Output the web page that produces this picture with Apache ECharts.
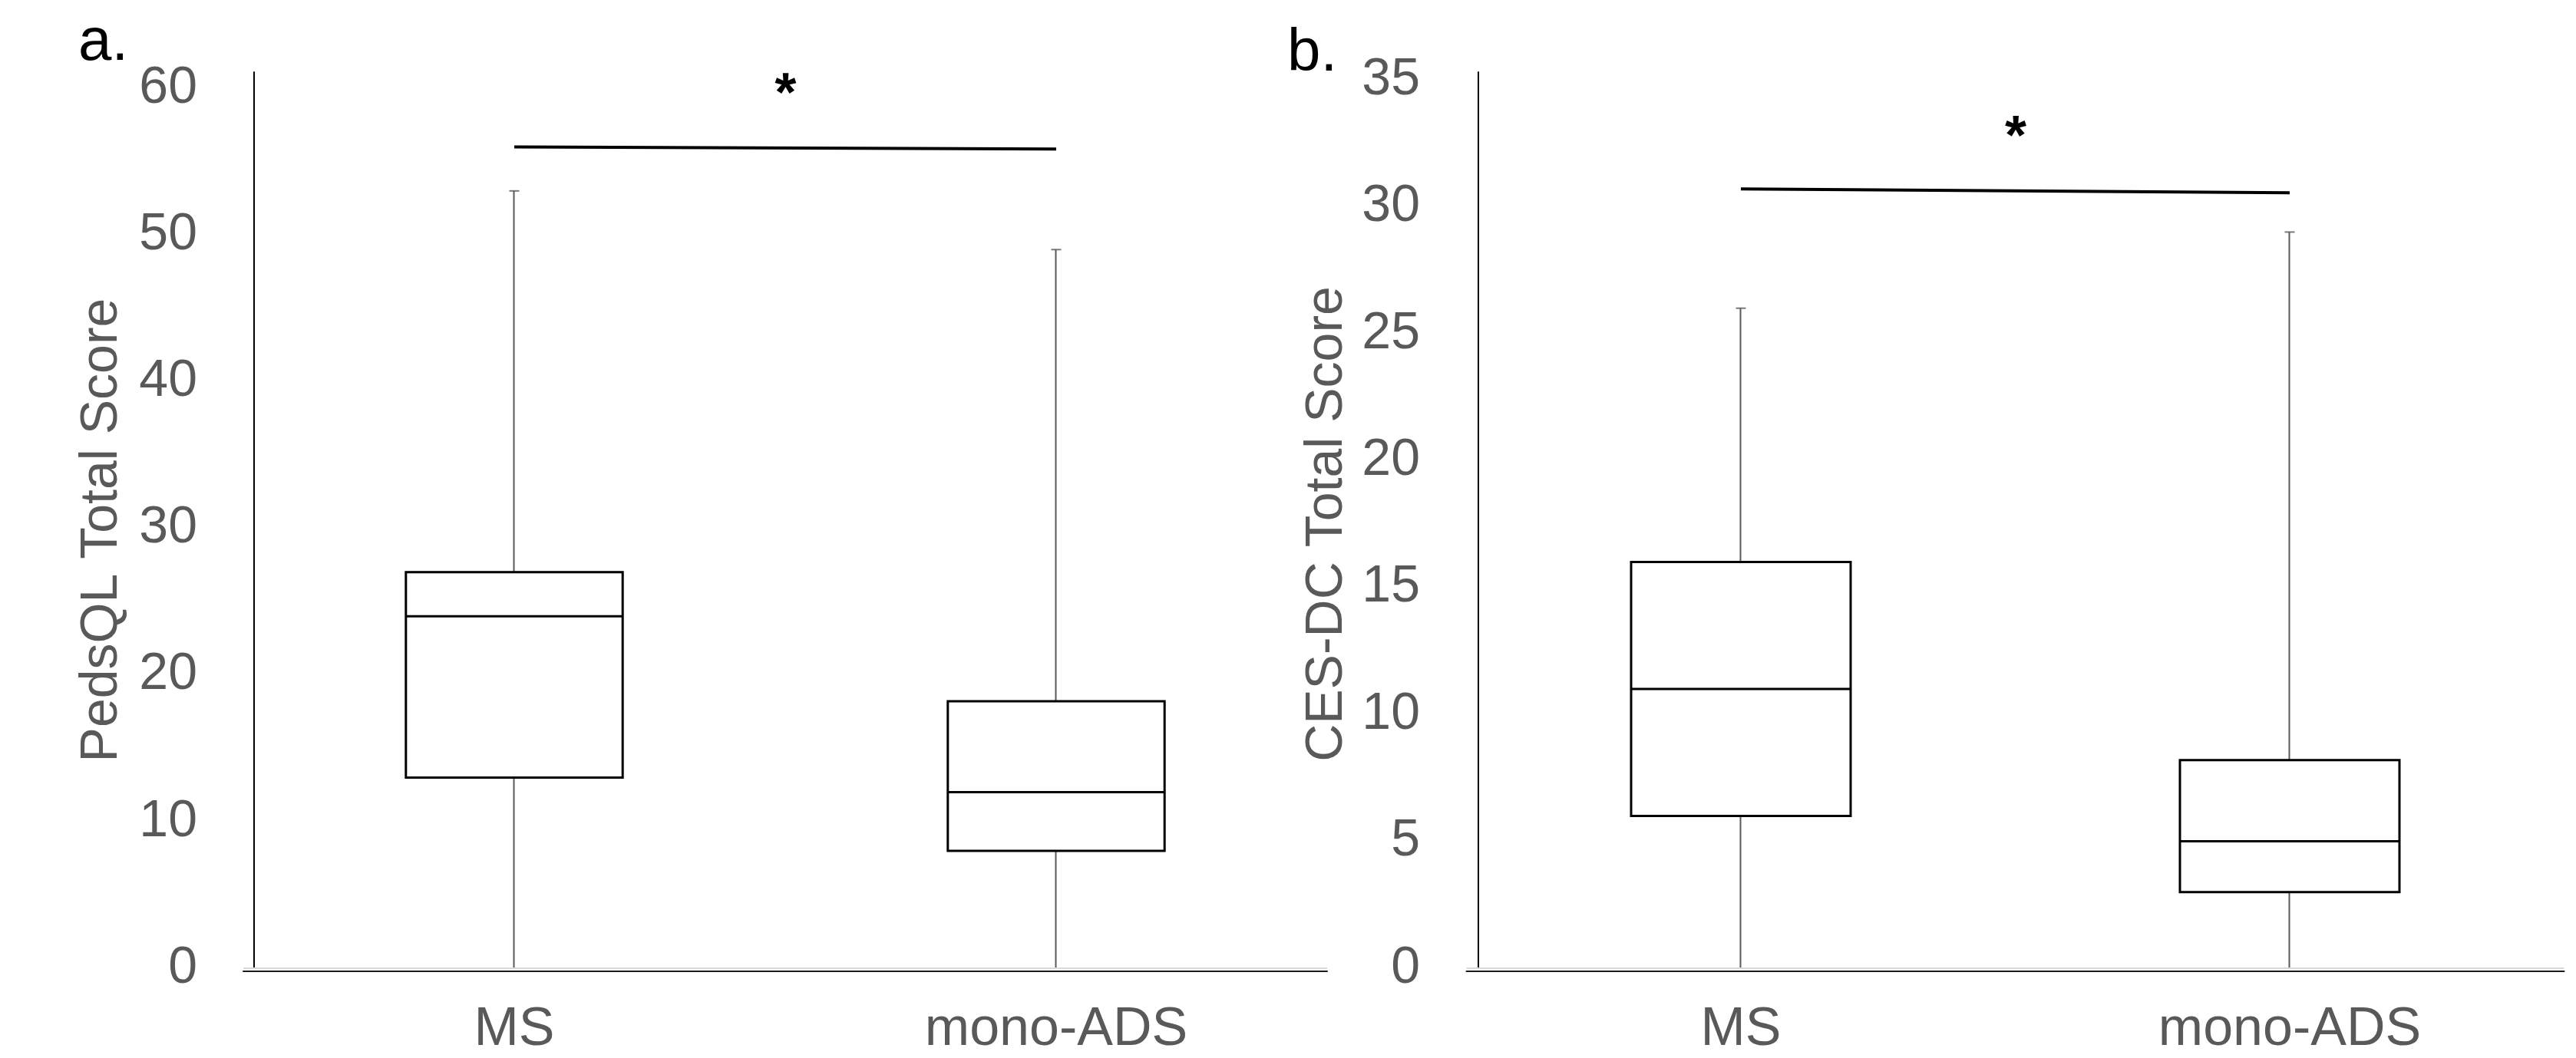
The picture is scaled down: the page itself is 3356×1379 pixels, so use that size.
<!DOCTYPE html>
<html>
<head>
<meta charset="utf-8">
<script src="https://cdn.jsdelivr.net/npm/echarts@6/dist/echarts.min.js"></script>
<style>
html,body{margin:0;padding:0;background:#fff;}
#chart{width:3356px;height:1379px;}
</style>
</head>
<body>
<div id="chart"></div>
<script>
// ---- data ----
const categories = ['MS', 'mono-ADS'];
// box statistics: [min, Q1, median, Q3, max]
const pedsqlMS   = [0, 13, 24, 27, 53];
const pedsqlMono = [0, 8, 12, 18.2, 49];
const cesdcMS    = [0, 6, 11, 16, 26];
const cesdcMono  = [0, 3, 5, 8.2, 29];
// significance bar heights at MS and mono-ADS ends
const sigA = [56, 55.85];
const sigB = [30.7, 30.55];
const sigLabel = '*';
// axis ticks
const yTickA = {min: 0, max: 61.1, interval: 10};
const yTickB = {min: 0, max: 35.3, interval: 5};
const yNameA = 'PedsQL Total Score';
const yNameB = 'CES-DC Total Score';
const panelLabels = ['a.', 'b.'];

const FONT = "'Liberation Sans', Arial, sans-serif";
const GREY = '#595959';

function boxOnly(s) { return [s[1], s[1], s[2], s[3], s[3]]; }
function candle(s) { return [s[1], s[3], s[0], s[4]]; }

function panelSeries(idx, ms, mono, sig) {
  return [
    {
      type: 'candlestick', xAxisIndex: idx, yAxisIndex: idx, z: 2,
      barWidth: '40%',
      data: [candle(ms), candle(mono)],
      itemStyle: {color: '#fff', color0: '#fff', borderColor: GREY, borderColor0: GREY, borderWidth: 2},
      silent: true
    },
    {
      type: 'boxplot', xAxisIndex: idx, yAxisIndex: idx, z: 3,
      boxWidth: ['40%', '40%'],
      data: [boxOnly(ms), boxOnly(mono)],
      itemStyle: {color: '#fff', borderColor: '#000', borderWidth: 3},
      silent: true,
      markLine: {
        silent: true, symbol: ['none', 'none'], animation: false,
        data: [
          {yAxis: 0, lineStyle: {color: '#d9d9d9', width: 2, type: 'solid'}, label: {show: false}},
          [
            {coord: [categories[0], sig[0]], lineStyle: {color: '#000', width: 4, type: 'solid'},
             label: {show: true, position: 'middle', formatter: sigLabel, fontSize: 72, fontWeight: 'bold',
                     color: '#000', fontFamily: FONT, distance: 32}},
            {coord: [categories[1], sig[1]]}
          ]
        ]
      }
    },
    {
      type: 'scatter', xAxisIndex: idx, yAxisIndex: idx, z: 4,
      symbol: 'rect', symbolSize: [13, 2],
      itemStyle: {color: GREY},
      data: [[categories[0], ms[4]], [categories[1], mono[4]], [categories[0], ms[0]], [categories[1], mono[0]]],
      silent: true
    }
  ];
}

function yAxis(idx, t, name, offset, margin, nameGap, namePad) {
  return {
    type: 'value', gridIndex: idx, min: t.min, max: t.max, interval: t.interval,
    offset: offset,
    name: name, nameLocation: 'middle', nameGap: nameGap, nameRotate: 90,
    nameTextStyle: {fontSize: 68, color: GREY, fontFamily: FONT, padding: [0, namePad, 0, 0]},
    axisLine: {show: true, lineStyle: {color: '#000', width: 2}},
    axisTick: {show: false},
    splitLine: {show: false},
    axisLabel: {fontSize: 68, color: GREY, fontFamily: FONT, margin: margin,
      formatter: v => (Math.abs(v % t.interval) < 1e-9 ? String(v) : '')}
  };
}
function xAxis(idx) {
  return {
    type: 'category', gridIndex: idx, data: categories, offset: 4,
    axisLine: {show: true, onZero: false, lineStyle: {color: '#1a1a1a', width: 2}},
    axisTick: {show: false},
    axisLabel: {fontSize: 70, color: GREY, fontFamily: FONT, margin: 42}
  };
}

const chart = echarts.init(document.getElementById('chart'), null, {renderer: 'canvas'});
chart.setOption({
  animation: false,
  backgroundColor: '#fff',
  title: [
    {text: panelLabels[0], left: 97, top: 12, textStyle: {fontSize: 78, fontWeight: 'normal', color: '#000', fontFamily: FONT}},
    {text: panelLabels[1], left: 1672, top: 26, textStyle: {fontSize: 78, fontWeight: 'normal', color: '#000', fontFamily: FONT}}
  ],
  grid: [
    {left: 317, top: 94, width: 1412, height: 1168},
    {left: 1910.5, top: 94, width: 1430, height: 1168}
  ],
  xAxis: [xAxis(0), xAxis(1)],
  yAxis: [
    yAxis(0, yTickA, yNameA, -14, 74, 164, 26),
    yAxis(1, yTickB, yNameB, -15.5, 76, 163, 10)
  ],
  series: [
    ...panelSeries(0, pedsqlMS, pedsqlMono, sigA),
    ...panelSeries(1, cesdcMS, cesdcMono, sigB)
  ]
});
</script>
</body>
</html>
